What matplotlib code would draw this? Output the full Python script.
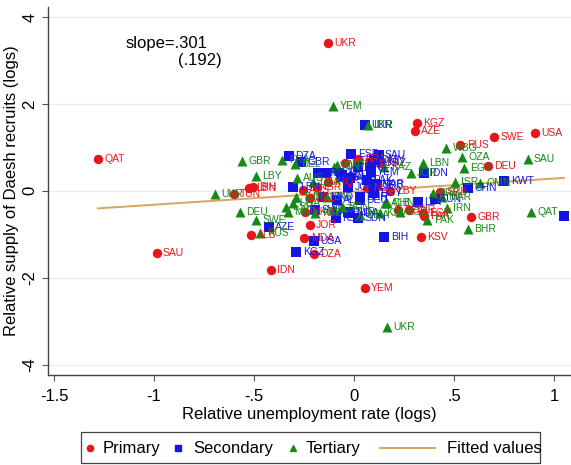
import matplotlib
matplotlib.use("Agg")
import matplotlib.pyplot as plt
from matplotlib.lines import Line2D
from matplotlib.patches import Rectangle
import numpy as np

plt.rcParams['font.family'] = ['Liberation Sans', 'DejaVu Sans']

# ---------------- data ----------------
prim_labels = ["UKR", "QAT", "KGZ", "AZE", "SWE", "USA", "RUS", "DEU", "LBY", "GBR",
               "KSV", "SAU", "IDN", "YEM", "JOR", "MDA", "DZA", "ALB", "LBN", "BIH",
               "TUN", "ESP", "FRA", "KAZ", "SRB", "EGY", "PAK", "TUR", "MKD", "BEL",
               "IRQ", "AUS", "ISR", "NLD", "SEN"]
prim_x = [-0.128, -1.281, 0.316, 0.303, 0.701, 0.903, 0.532, 0.670, 0.182, 0.587,
          0.334, -0.987, -0.415, 0.053, -0.220, -0.248, -0.200, -0.514, -0.523, -0.505,
          -0.600, -0.045, 0.022, 0.128, 0.431, 0.343, 0.350, 0.275, -0.245, -0.220,
          -0.128, -0.257, -0.183, 0.064, 0.220]
prim_y = [3.40, 0.728, 1.563, 1.379, 1.226, 1.318, 1.050, 0.575, -0.008, -0.613,
          -1.057, -1.440, -1.824, -2.238, -0.789, -1.080, -1.456, -1.027, 0.054, 0.090,
          -0.084, 0.630, 0.720, 0.628, -0.023, -0.520, -0.580, -0.440, -0.483, -0.176,
          0.207, 0.015, 0.092, 0.054, -0.440]

sec_labels = ["UKR", "ESP", "SAU", "DZA", "GBR", "FRA", "BEL", "ISR", "YEM", "MAR",
              "IDN", "KWT", "CHN", "LBY", "TUN", "BIH", "QAT", "USA", "KGZ", "AZE",
              "LBN", "KSV", "SDN", "TUR", "SWE", "EGY", "BHR", "JOR", "PAK", "OMN",
              "MKD", "DEU", "RUS", "ALB", "IRQ", "NLD", "AUS", "SRB", "MDA", "KAZ"]
sec_x = [0.055, -0.013, 0.123, -0.327, -0.266, -0.180, -0.064, 0.018, 0.083, 0.106,
         0.349, 0.752, 0.569, 0.321, 0.404, 0.152, 1.050, -0.200, -0.288, -0.426,
         -0.303, -0.092, 0.022, -0.028, -0.195, 0.100, 0.028, -0.028, 0.063, 0.100,
         -0.153, 0.030, 0.083, -0.087, -0.170, -0.060, -0.020, 0.113, -0.020, -0.138]
sec_y = [1.510, 0.850, 0.820, 0.800, 0.667, 0.414, 0.322, 0.552, 0.437, 0.153,
         0.414, 0.222, 0.054, -0.253, -0.190, -1.073, -0.582, -1.149, -1.402, -0.828,
         0.092, -0.620, -0.636, -0.483, -0.445, -0.060, -0.138, 0.092, 0.245, 0.705,
         -0.138, -0.214, 0.628, -0.214, 0.400, 0.360, 0.285, 0.130, -0.520, 0.400]

ter_labels = ["YEM", "IDN", "GBR", "LBY", "UKR", "DEU", "SWE", "RUS", "FRA", "BEL",
              "AUS", "TUR", "ESP", "MKD", "TUN", "KAZ", "LBN", "JOR", "WBG", "OZA",
              "EGY", "SAU", "ISR", "OMN", "SRB", "MAR", "IRN", "PAK", "BHR", "QAT",
              "UKR", "ALB", "KGZ", "KSV", "MDA", "AZE", "NLD", "DZA", "BIH", "SDN",
              "USA", "CHN", "KWT"]
ter_x = [-0.105, 0.070, -0.560, -0.492, -0.695, -0.571, -0.488, -0.468, -0.358, -0.294,
         -0.287, -0.288, -0.339, -0.330, -0.100, 0.152, 0.343, 0.284, 0.462, 0.541,
         0.550, 0.868, 0.505, 0.629, 0.394, 0.440, 0.464, 0.367, 0.569, 0.886,
         0.165, 0.156, 0.229, 0.128, 0.028, -0.100, -0.193, -0.205, -0.137, -0.060,
         -0.303, 0.163, -0.087]
ter_y = [1.946, 1.510, 0.682, 0.345, -0.077, -0.490, -0.674, -0.981, 0.705, 0.605,
         0.285, -0.138, -0.368, -0.480, 0.552, 0.552, 0.628, 0.414, 0.973, 0.782,
         0.513, 0.720, 0.207, 0.169, -0.061, -0.138, -0.406, -0.674, -0.889, -0.483,
         -3.142, -0.291, -0.483, -0.521, -0.559, -0.410, -0.520, 0.207, -0.138, -0.368,
         -0.290, -0.290, 0.590]

fit_slope = 0.301
fit_intercept = -0.02
slope_text = "slope=.301"
se_text = "(.192)"

x_ticks = [-1.5, -1.0, -0.5, 0.0, 0.5, 1.0]
x_ticklabels = ["-1.5", "-1", "-.5", "0", ".5", "1"]
y_ticks = [-4, -2, 0, 2, 4]
y_ticklabels = ["-4", "-2", "0", "2", "4"]
legend_labels = ["Primary", "Secondary", "Tertiary", "Fitted values"]

# ---------------- plot ----------------
RED = "#e8161b"
BLUE = "#1414e6"
GREEN = "#168a16"
FIT = "#d9a55c"

W, H = 571, 465
fig = plt.figure(figsize=(W / 100, H / 100), dpi=100)
ax = fig.add_axes([0.0846, 0.1935, 0.9154, 0.7925])
ax.set_xlim(-1.5285, 1.085)
ax.set_ylim(-4.24, 4.24)

for yt in y_ticks:
    ax.axhline(yt, color="#ececec", lw=1.0, zorder=0)

all_x = prim_x + sec_x + ter_x
xf = np.array([min(all_x), max(all_x)])
ax.plot(xf, fit_intercept + fit_slope * xf, color=FIT, lw=1.4, zorder=1)

lab_fs = 7.5
def series(xs, ys, labels, marker, color, ms):
    ax.scatter(xs, ys, marker=marker, s=ms, color=color, zorder=3, linewidths=0)
    for x, y, t in zip(xs, ys, labels):
        ax.annotate(t, (x, y), xytext=(4.5, 0), textcoords="offset points",
                    va="center", ha="left", fontsize=lab_fs, color=color, zorder=4)

series(prim_x, prim_y, prim_labels, "o", RED, 46)
series(sec_x, sec_y, sec_labels, "s", BLUE, 46)
series(ter_x, ter_y, ter_labels, "^", GREEN, 52)

ax.text(-0.936, 3.40, slope_text, ha="center", va="center", fontsize=12)
ax.text(-0.77, 2.99, se_text, ha="center", va="center", fontsize=12)

ax.set_xticks(x_ticks)
ax.set_xticklabels(x_ticklabels, fontsize=12)
ax.set_yticks(y_ticks)
ax.set_yticklabels(y_ticklabels, fontsize=12, rotation=90, va="center")
ax.tick_params(axis="x", length=4, width=0.8, color="#555555", pad=6)
ax.tick_params(axis="y", length=4, width=0.8, color="#555555", pad=4)
for s in ["top", "right"]:
    ax.spines[s].set_visible(False)
for s in ["left", "bottom"]:
    ax.spines[s].set_color("#444444")
    ax.spines[s].set_linewidth(1.0)

ax.set_xlabel("Relative unemployment rate (logs)", fontsize=12, labelpad=2)
ax.set_ylabel("Relative supply of Daesh recruits (logs)", fontsize=12, labelpad=2)

# ---------------- legend (drawn in figure pixel layout) ----------------
def fx(px):
    return px / W

def fy(py):
    return 1 - py / H

fig.add_artist(Rectangle((fx(81), fy(463)), fx(540) - fx(81), fy(432) - fy(463),
                         transform=fig.transFigure, fill=False, edgecolor="#444444", lw=0.9))
ly = 448
fig.add_artist(Line2D([fx(90)], [fy(ly)], marker="o", ms=4.5, color=RED, ls="none",
                      transform=fig.transFigure))
fig.add_artist(Line2D([fx(178)], [fy(ly)], marker="s", ms=4.2, color=BLUE, ls="none",
                      transform=fig.transFigure))
fig.add_artist(Line2D([fx(293)], [fy(ly)], marker="^", ms=4.8, color=GREEN, ls="none",
                      transform=fig.transFigure))
fig.add_artist(Line2D([fx(380), fx(435)], [fy(ly), fy(ly)], color=FIT, lw=1.4,
                      transform=fig.transFigure))
for px, t in zip([103, 193, 306, 447], legend_labels):
    fig.text(fx(px), fy(ly), t, ha="left", va="center", fontsize=12)

fig.savefig("out.png", dpi=100, facecolor="white")
